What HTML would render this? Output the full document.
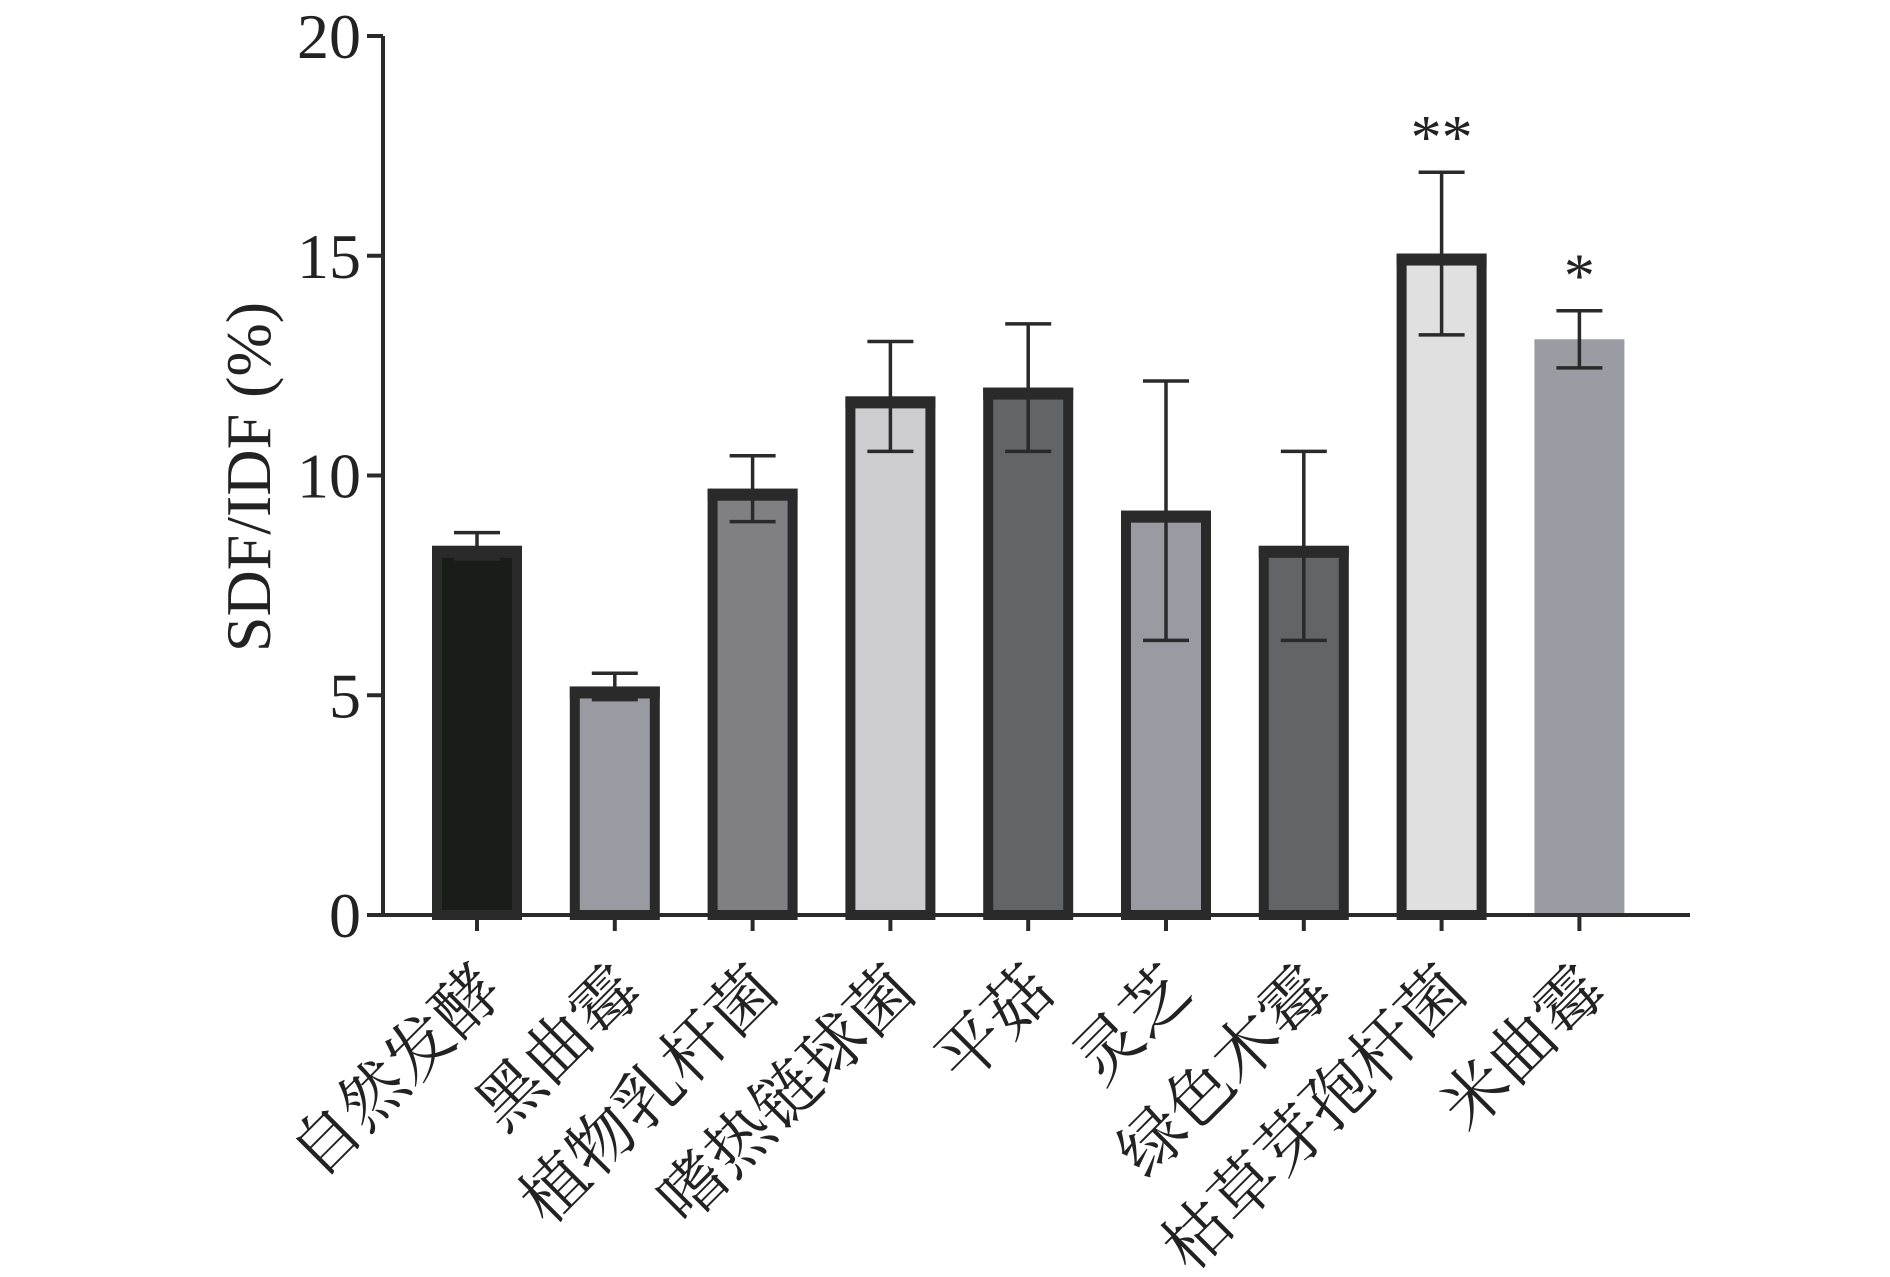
<!DOCTYPE html>
<html><head><meta charset="utf-8"><style>
html,body{margin:0;padding:0;background:#fff;}
svg{display:block;}
text{font-family:"Liberation Serif","Noto Serif CJK SC","Noto Sans CJK SC",serif;fill:#222;}
</style></head><body>
<svg id="chart" width="1890" height="1277" viewBox="0 0 1890 1277" xmlns="http://www.w3.org/2000/svg"></svg>
<script>
const categories = ["自然发酵","黑曲霉","植物乳杆菌","嗜热链球菌","平菇","灵芝","绿色木霉","枯草芽孢杆菌","米曲霉"];
const values = [8.4, 5.2, 9.7, 11.8, 12.0, 9.2, 8.4, 15.05, 13.1];
const errors = [0.3, 0.3, 0.75, 1.25, 1.45, 2.95, 2.15, 1.85, 0.65];
const stars = ["", "", "", "", "", "", "", "**", "*"];
const fills = ["#1a1c1a","#9a9aa2","#7f7f84","#cdcdd0","#636466","#9a9aa2","#636466","#e0e0e0","#9b9ba3"];
const borders = [true,true,true,true,true,true,true,true,false];
const yTicks = [0,5,10,15,20];

const svg = document.getElementById('chart');
const NS = "http://www.w3.org/2000/svg";
const x0 = 383, x1 = 1690, yBase = 915, yTop = 36, yMax = 20;
const firstC = 477, step = 137.8, barW = 90;
function y(v){ return yBase - (yBase - yTop) * v / yMax; }
function xc(i){ return firstC + step * i; }
function mk(tag, attrs, parent){
  const e = document.createElementNS(NS, tag);
  for (const k in attrs) e.setAttribute(k, attrs[k]);
  (parent || svg).appendChild(e);
  return e;
}
const dark = "#2a2a2a";

categories.forEach((c, i) => {
  const cx = xc(i), top = y(values[i]);
  const g = mk('g', {});
  
  
  if (borders[i]) {
    mk('rect', {x: cx - barW/2 + 5, y: top + 5, width: barW - 10, height: yBase - top - 5, fill: fills[i], stroke: dark, 'stroke-width': 10}, g);
    mk('rect', {x: cx - barW/2, y: top, width: barW, height: 12, fill: dark}, g);
  } else {
    mk('rect', {x: cx - barW/2, y: top, width: barW, height: yBase - top, fill: fills[i]}, g);
  }
  const eg = mk('g', {stroke: dark, 'stroke-width': 3.5, fill: 'none'});
  
  
  const yh = y(values[i] + errors[i]), yl = y(values[i] - errors[i]);
  mk('line', {x1: cx, x2: cx, y1: yh, y2: yl}, eg);
  mk('line', {x1: cx - 23, x2: cx + 23, y1: yh, y2: yh}, eg);
  mk('line', {x1: cx - 23, x2: cx + 23, y1: yl, y2: yl}, eg);
  if (stars[i]) {
    const t = mk('text', {x: cx, y: yh - 14, 'text-anchor': 'middle', 'font-size': 62});
    t.textContent = stars[i];
    
    
  }
});

const ax = mk('g', {stroke: dark, 'stroke-width': 4});


mk('line', {x1: x0, x2: x0, y1: yTop, y2: yBase + 2}, ax);
mk('line', {x1: x0 - 2, x2: x1, y1: yBase, y2: yBase}, ax);

yTicks.forEach(v => {
  mk('line', {x1: x0 - 16, x2: x0, y1: y(v), y2: y(v), stroke: dark, 'stroke-width': 4});
  const t = mk('text', {x: x0 - 22, y: y(v) + 22, 'text-anchor': 'end', 'font-size': 64});
  t.textContent = v;
  
  
});

categories.forEach((c, i) => {
  const cx = xc(i);
  mk('line', {x1: cx, x2: cx, y1: yBase, y2: yBase + 16, stroke: dark, 'stroke-width': 4});
  const tx = cx - 4, ty = yBase + 46;
  const t = mk('text', {x: tx, y: ty, 'text-anchor': 'end', 'font-size': 66, 'dominant-baseline': 'hanging', transform: 'rotate(-45 ' + tx + ' ' + ty + ')'});
  t.textContent = c;
  
  
});

const yt = mk('text', {x: 0, y: 0, 'text-anchor': 'middle', 'font-size': 64, transform: 'translate(270 477) rotate(-90)'});
yt.textContent = "SDF/IDF (%)";


</script>
</body></html>
